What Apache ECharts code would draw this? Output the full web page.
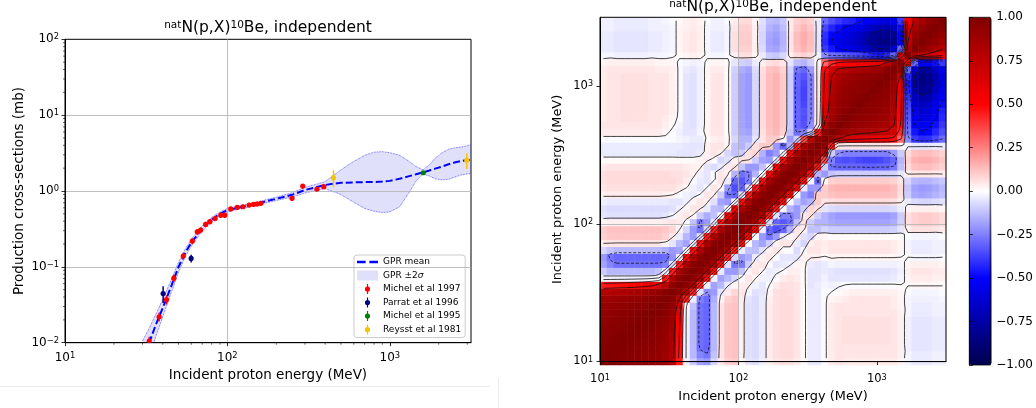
<!DOCTYPE html>
<html>
<head>
<meta charset="utf-8">
<script src="https://cdn.jsdelivr.net/npm/echarts@6/dist/echarts.min.js"></script>
<style>
html, body { margin: 0; padding: 0; background: #fff; }
#main { width: 1036px; height: 408px; }
</style>
</head>
<body>
<div id="main"></div>
<script>
// ---- left panel: GPR fit of the excitation function ----
const gprEnergy = [30, 33, 36, 40, 45, 50, 55, 60, 70, 80, 90, 100, 120, 150, 200, 250, 300, 350, 400, 450, 500, 600, 700, 800, 900, 1000, 1150, 1300, 1450, 1600, 1750, 1900, 2100, 2300, 2500, 2750, 3000, 3162];
const gprMean  = [0.0056, 0.010, 0.0166, 0.0287, 0.055, 0.0995, 0.153, 0.209, 0.321, 0.42, 0.50, 0.56, 0.61, 0.68, 0.79, 0.89, 1.03, 1.12, 1.20, 1.25, 1.28, 1.30, 1.31, 1.31, 1.33, 1.36, 1.45, 1.56, 1.66, 1.76, 1.86, 1.97, 2.10, 2.25, 2.37, 2.48, 2.55, 2.58];
const gprUpper = [0.0105, 0.0155, 0.023, 0.037, 0.067, 0.115, 0.172, 0.232, 0.35, 0.45, 0.53, 0.59, 0.64, 0.71, 0.83, 0.95, 1.12, 1.22, 1.33, 1.6, 1.9, 2.45, 2.95, 3.25, 3.3, 3.2, 2.95, 2.5, 2.1, 1.9, 2.2, 2.7, 3.2, 3.55, 3.7, 3.8, 3.95, 4.1];
const gprLower = [0.0035, 0.0062, 0.0115, 0.022, 0.045, 0.085, 0.135, 0.188, 0.295, 0.39, 0.47, 0.53, 0.58, 0.65, 0.75, 0.83, 0.94, 1.02, 1.07, 0.98, 0.9, 0.71, 0.59, 0.54, 0.52, 0.53, 0.62, 0.92, 1.35, 1.68, 1.58, 1.45, 1.4, 1.43, 1.52, 1.63, 1.68, 1.7];

// experimental points (energy MeV, cross-section mb, error mb)
const michel97E   = [33, 38, 42.2, 46.8, 53.5, 60.8, 65.2, 68.4, 73.4, 78, 84, 91, 96.4, 104.8, 115, 124.7, 136, 145, 152, 160.6, 250, 291, 356, 392];
const michel97Y   = [0.0105, 0.022, 0.037, 0.071, 0.139, 0.219, 0.29, 0.306, 0.363, 0.394, 0.434, 0.48, 0.48, 0.58, 0.61, 0.62, 0.654, 0.667, 0.674, 0.688, 0.80, 1.16, 1.06, 1.14];
const michel97Err = [0.0015, 0.003, 0.005, 0.008, 0.014, 0.02, 0.025, 0.025, 0.03, 0.03, 0.035, 0.04, 0.04, 0.04, 0.04, 0.04, 0.045, 0.045, 0.045, 0.045, 0.06, 0.08, 0.07, 0.08];
const parrat96E   = [40.2, 59.8];
const parrat96Y   = [0.0445, 0.129];
const parrat96Err = [0.011, 0.015];
const michel95E   = [1607];
const michel95Y   = [1.74];
const michel95Err = [0.08];
const reysst81E   = [450, 2980];
const reysst81Y   = [1.5, 2.55];
const reysst81Err = [0.38, 0.6];

// log axis ticks
const majorX = [10, 100, 1000];
const majorY = [0.01, 0.1, 1, 10, 100];
const minorX = [20, 30, 40, 50, 60, 70, 80, 90, 200, 300, 400, 500, 600, 700, 800, 900, 2000, 3000];
const minorY = [0.02, 0.03, 0.04, 0.05, 0.06, 0.07, 0.08, 0.09, 0.2, 0.3, 0.4, 0.5, 0.6, 0.7, 0.8, 0.9,
                2, 3, 4, 5, 6, 7, 8, 9, 20, 30, 40, 50, 60, 70, 80, 90];

// ---- right panel: correlation matrix, cells 0.05 decade wide from 10 MeV ----
const cellLog0 = 1.025;  // log10(E) of first cell centre
const cellStep = 0.05;
// lower triangle, row j = y cell, entries i = 0..j (matrix is symmetric)
const corrLower = [
  [1.00],
  [0.99, 1.00],
  [0.98, 0.99, 1.00],
  [0.97, 0.98, 0.99, 1.00],
  [0.96, 0.97, 0.98, 0.99, 1.00],
  [0.95, 0.96, 0.97, 0.98, 0.99, 1.00],
  [0.94, 0.95, 0.96, 0.97, 0.98, 0.99, 1.00],
  [0.93, 0.94, 0.95, 0.96, 0.97, 0.98, 0.99, 1.00],
  [0.91, 0.92, 0.93, 0.94, 0.95, 0.96, 0.97, 0.99, 1.00],
  [0.88, 0.89, 0.90, 0.91, 0.92, 0.93, 0.95, 0.96, 0.98, 1.00],
  [0.80, 0.81, 0.82, 0.83, 0.84, 0.86, 0.88, 0.90, 0.93, 0.97, 1.00],
  [0.45, 0.46, 0.47, 0.48, 0.50, 0.52, 0.55, 0.60, 0.68, 0.80, 0.95, 1.00],
  [-0.03, -0.03, -0.03, -0.03, -0.03, -0.03, -0.03, -0.02, 0.02, 0.45, 0.82, 0.95, 1.00],
  [-0.10, -0.14, -0.14, -0.14, -0.14, -0.14, -0.14, -0.14, -0.12, -0.04, 0.45, 0.85, 0.96, 1.00],
  [-0.18, -0.24, -0.28, -0.28, -0.28, -0.28, -0.28, -0.28, -0.28, -0.25, -0.06, 0.45, 0.85, 0.96, 1.00],
  [-0.20, -0.27, -0.30, -0.30, -0.30, -0.30, -0.30, -0.30, -0.30, -0.29, -0.22, -0.03, 0.48, 0.85, 0.96, 1.00],
  [-0.08, -0.12, -0.14, -0.14, -0.14, -0.14, -0.14, -0.14, -0.14, -0.16, -0.20, -0.18, -0.02, 0.48, 0.85, 0.96, 1.00],
  [0.04, 0.05, 0.05, 0.05, 0.05, 0.05, 0.05, 0.05, 0.05, 0.02, -0.05, -0.14, -0.18, -0.04, 0.48, 0.85, 0.96, 1.00],
  [0.09, 0.11, 0.11, 0.11, 0.11, 0.11, 0.11, 0.11, 0.11, 0.09, 0.04, -0.04, -0.14, -0.20, -0.06, 0.45, 0.85, 0.96, 1.00],
  [0.10, 0.12, 0.12, 0.12, 0.12, 0.12, 0.12, 0.12, 0.12, 0.11, 0.08, 0.02, -0.08, -0.20, -0.27, -0.08, 0.45, 0.85, 0.96, 1.00],
  [0.02, 0.03, 0.03, 0.03, 0.03, 0.03, 0.03, 0.03, 0.03, 0.04, 0.05, 0.04, -0.01, -0.12, -0.26, -0.20, -0.04, 0.48, 0.86, 0.96, 1.00],
  [-0.05, -0.06, -0.06, -0.06, -0.06, -0.06, -0.06, -0.06, -0.06, -0.05, -0.02, 0.03, 0.05, 0.02, -0.10, -0.16, -0.12, -0.01, 0.50, 0.86, 0.96, 1.00],
  [-0.06, -0.07, -0.07, -0.07, -0.07, -0.07, -0.07, -0.07, -0.07, -0.07, -0.06, -0.03, 0.02, 0.05, 0.04, -0.04, -0.13, -0.14, -0.01, 0.50, 0.86, 0.96, 1.00],
  [-0.03, -0.04, -0.04, -0.04, -0.04, -0.04, -0.04, -0.04, -0.04, -0.04, -0.05, -0.05, -0.03, 0.02, 0.05, 0.03, -0.06, -0.18, -0.20, -0.03, 0.48, 0.85, 0.96, 1.00],
  [0.03, 0.04, 0.04, 0.04, 0.04, 0.04, 0.04, 0.04, 0.04, 0.03, 0.02, -0.01, -0.03, -0.04, -0.01, 0.05, 0.03, -0.10, -0.27, -0.30, -0.06, 0.45, 0.85, 0.96, 1.00],
  [0.05, 0.06, 0.06, 0.06, 0.06, 0.06, 0.06, 0.06, 0.06, 0.06, 0.06, 0.04, 0.01, -0.03, -0.05, -0.01, 0.05, 0.02, -0.20, -0.35, -0.30, -0.06, 0.45, 0.85, 0.96, 1.00],
  [0.06, 0.07, 0.07, 0.07, 0.07, 0.07, 0.07, 0.07, 0.07, 0.07, 0.07, 0.06, 0.04, -0.01, -0.04, -0.05, -0.01, 0.05, -0.04, -0.30, -0.33, -0.25, -0.02, 0.48, 0.86, 0.96, 1.00],
  [0.06, 0.07, 0.07, 0.07, 0.07, 0.07, 0.07, 0.07, 0.07, 0.07, 0.06, 0.06, 0.05, 0.03, -0.03, -0.05, -0.01, 0.05, 0.02, -0.15, -0.28, -0.25, -0.15, -0.01, 0.50, 0.86, 0.96, 1.00],
  [0.04, 0.05, 0.05, 0.05, 0.05, 0.05, 0.05, 0.05, 0.05, 0.05, 0.05, 0.05, 0.04, 0.03, 0.02, -0.05, -0.07, -0.04, 0.04, 0.05, -0.12, -0.20, -0.20, -0.12, -0.01, 0.50, 0.86, 0.96, 1.00],
  [0.01, 0.01, 0.01, 0.01, 0.01, 0.01, 0.01, 0.01, 0.01, 0.01, 0.01, 0.01, 0.01, 0.01, 0.02, 0.03, -0.01, -0.08, -0.06, 0.03, 0.06, 0.05, -0.10, -0.18, -0.20, -0.04, 0.48, 0.86, 0.96, 1.00],
  [-0.04, -0.04, -0.04, -0.04, -0.04, -0.04, -0.04, -0.04, -0.04, -0.04, -0.04, -0.05, -0.05, -0.05, -0.04, 0.03, 0.05, 0.03, -0.08, -0.12, -0.10, 0.06, 0.08, -0.15, -0.25, -0.20, -0.02, 0.48, 0.86, 0.96, 1.00],
  [-0.04, -0.04, -0.04, -0.04, -0.04, -0.04, -0.04, -0.04, -0.04, -0.04, -0.04, -0.04, -0.05, -0.05, -0.05, 0.03, 0.05, 0.05, 0.02, -0.12, -0.15, -0.10, 0.06, 0.10, 0.10, -0.20, -0.30, -0.15, 0.45, 0.85, 0.96, 1.00],
  [-0.01, -0.01, -0.01, -0.01, -0.01, -0.01, -0.01, -0.01, -0.01, -0.01, -0.01, -0.02, -0.03, -0.04, -0.04, 0.01, 0.03, 0.04, 0.02, -0.08, -0.15, -0.15, -0.05, 0.05, 0.10, 0.10, 0.02, -0.20, -0.10, 0.35, 0.80, 0.95, 1.00],
  [0.04, 0.04, 0.04, 0.04, 0.04, 0.04, 0.04, 0.04, 0.04, 0.02, -0.01, -0.03, -0.05, -0.05, -0.02, 0.02, 0.05, 0.05, 0.01, -0.10, -0.17, -0.18, -0.07, 0.06, 0.12, 0.14, 0.09, -0.12, -0.28, -0.25, -0.10, 0.45, 0.93, 1.00],
  [0.05, 0.05, 0.05, 0.05, 0.05, 0.05, 0.05, 0.05, 0.05, 0.03, 0.01, -0.02, -0.05, -0.06, -0.03, 0.02, 0.05, 0.05, 0.01, -0.10, -0.18, -0.20, -0.08, 0.07, 0.13, 0.15, 0.10, -0.10, -0.30, -0.34, -0.22, 0.05, 0.80, 0.94, 1.00],
  [0.04, 0.05, 0.05, 0.06, 0.06, 0.06, 0.06, 0.05, 0.05, 0.04, 0.02, -0.01, -0.05, -0.06, -0.03, 0.02, 0.05, 0.05, 0.01, -0.10, -0.18, -0.20, -0.08, 0.07, 0.13, 0.15, 0.10, -0.10, -0.30, -0.35, -0.25, 0.05, 0.70, 0.88, 0.96, 1.00],
  [0.04, 0.05, 0.05, 0.06, 0.06, 0.06, 0.06, 0.05, 0.05, 0.05, 0.03, -0.01, -0.05, -0.06, -0.03, 0.02, 0.05, 0.05, 0.01, -0.10, -0.18, -0.20, -0.08, 0.07, 0.13, 0.15, 0.10, -0.10, -0.30, -0.34, -0.25, 0.05, 0.65, 0.85, 0.93, 0.96, 1.00],
  [0.04, 0.05, 0.05, 0.06, 0.06, 0.06, 0.06, 0.05, 0.05, 0.05, 0.03, -0.01, -0.05, -0.06, -0.03, 0.02, 0.05, 0.05, 0.01, -0.10, -0.18, -0.20, -0.08, 0.07, 0.13, 0.15, 0.10, -0.10, -0.30, -0.36, -0.25, 0.05, 0.62, 0.84, 0.91, 0.94, 0.97, 1.00],
  [0.04, 0.05, 0.05, 0.06, 0.06, 0.06, 0.06, 0.05, 0.05, 0.05, 0.03, -0.01, -0.05, -0.06, -0.03, 0.02, 0.05, 0.05, 0.01, -0.10, -0.18, -0.20, -0.08, 0.07, 0.13, 0.15, 0.10, -0.10, -0.31, -0.37, -0.25, 0.05, 0.60, 0.82, 0.90, 0.93, 0.95, 0.97, 1.00],
  [0.04, 0.05, 0.05, 0.06, 0.06, 0.06, 0.06, 0.05, 0.05, 0.05, 0.03, -0.01, -0.05, -0.06, -0.03, 0.02, 0.05, 0.05, 0.01, -0.10, -0.18, -0.20, -0.08, 0.07, 0.13, 0.15, 0.10, -0.10, -0.31, -0.37, -0.25, 0.05, 0.58, 0.80, 0.88, 0.92, 0.94, 0.95, 0.97, 1.00],
  [0.04, 0.05, 0.05, 0.06, 0.06, 0.06, 0.06, 0.05, 0.05, 0.05, 0.03, -0.01, -0.05, -0.06, -0.03, 0.02, 0.05, 0.05, 0.01, -0.10, -0.18, -0.20, -0.08, 0.07, 0.13, 0.15, 0.10, -0.10, -0.30, -0.36, -0.25, 0.05, 0.56, 0.78, 0.86, 0.90, 0.92, 0.94, 0.95, 0.97, 1.00],
  [0.04, 0.05, 0.05, 0.06, 0.06, 0.06, 0.06, 0.05, 0.05, 0.05, 0.03, -0.01, -0.05, -0.06, -0.03, 0.02, 0.05, 0.05, 0.01, -0.10, -0.18, -0.20, -0.08, 0.07, 0.13, 0.15, 0.10, -0.10, -0.30, -0.34, -0.25, 0.05, 0.54, 0.75, 0.84, 0.88, 0.90, 0.92, 0.94, 0.95, 0.97, 1.00],
  [0.04, 0.05, 0.05, 0.05, 0.05, 0.05, 0.05, 0.05, 0.04, 0.04, 0.03, -0.01, -0.04, -0.05, -0.03, 0.02, 0.04, 0.04, 0.01, -0.09, -0.16, -0.18, -0.07, 0.06, 0.12, 0.13, 0.09, -0.09, -0.27, -0.30, -0.20, 0.04, 0.48, 0.68, 0.76, 0.80, 0.82, 0.84, 0.86, 0.88, 0.90, 0.96, 1.00],
  [0.02, 0.03, 0.03, 0.03, 0.03, 0.03, 0.03, 0.03, 0.02, 0.02, 0.02, -0.01, -0.02, -0.03, -0.02, 0.01, 0.02, 0.02, 0.01, -0.05, -0.09, -0.10, -0.04, 0.03, 0.06, 0.07, 0.05, -0.05, -0.13, -0.15, -0.10, 0.02, 0.30, 0.42, 0.48, 0.50, 0.52, 0.54, 0.56, 0.58, 0.62, 0.75, 0.93, 1.00],
  [-0.02, -0.02, -0.03, -0.03, -0.03, -0.03, -0.03, -0.02, -0.02, -0.02, -0.01, 0.01, 0.02, 0.03, 0.02, -0.01, -0.02, -0.02, -0.01, 0.03, 0.06, 0.06, 0.02, -0.04, -0.10, -0.11, -0.08, 0.03, 0.07, 0.09, 0.07, -0.03, -0.23, -0.28, -0.30, -0.33, -0.35, -0.37, -0.40, -0.44, -0.46, -0.42, -0.30, 0.60, 1.00],
  [-0.04, -0.04, -0.05, -0.05, -0.05, -0.05, -0.05, -0.04, -0.04, -0.03, -0.02, 0.02, 0.04, 0.05, 0.03, -0.02, -0.04, -0.04, -0.02, 0.06, 0.09, 0.09, 0.03, -0.07, -0.17, -0.18, -0.14, 0.05, 0.12, 0.15, 0.12, -0.05, -0.39, -0.46, -0.51, -0.55, -0.58, -0.63, -0.68, -0.74, -0.77, -0.76, -0.65, -0.30, 0.85, 1.00],
  [-0.04, -0.04, -0.05, -0.05, -0.05, -0.05, -0.05, -0.04, -0.04, -0.03, -0.02, 0.02, 0.04, 0.05, 0.03, -0.02, -0.04, -0.04, -0.02, 0.06, 0.10, 0.10, 0.03, -0.08, -0.18, -0.20, -0.15, 0.05, 0.13, 0.16, 0.13, -0.05, -0.42, -0.50, -0.55, -0.60, -0.63, -0.68, -0.74, -0.80, -0.84, -0.85, -0.80, -0.50, 0.75, 0.95, 1.00],
  [-0.04, -0.04, -0.05, -0.05, -0.05, -0.05, -0.05, -0.04, -0.04, -0.03, -0.02, 0.02, 0.04, 0.05, 0.03, -0.02, -0.04, -0.04, -0.02, 0.06, 0.10, 0.10, 0.03, -0.08, -0.17, -0.19, -0.15, 0.05, 0.13, 0.16, 0.13, -0.05, -0.41, -0.49, -0.53, -0.58, -0.61, -0.66, -0.72, -0.78, -0.81, -0.82, -0.77, -0.52, 0.70, 0.90, 0.96, 1.00],
  [-0.03, -0.03, -0.04, -0.04, -0.04, -0.04, -0.04, -0.03, -0.03, -0.03, -0.02, 0.02, 0.03, 0.04, 0.03, -0.02, -0.03, -0.03, -0.02, 0.05, 0.09, 0.09, 0.03, -0.07, -0.15, -0.17, -0.13, 0.04, 0.11, 0.14, 0.11, -0.04, -0.36, -0.43, -0.47, -0.51, -0.54, -0.58, -0.63, -0.68, -0.71, -0.72, -0.68, -0.47, 0.65, 0.85, 0.92, 0.97, 1.00],
  [-0.03, -0.03, -0.04, -0.04, -0.04, -0.04, -0.04, -0.03, -0.03, -0.02, -0.01, 0.01, 0.03, 0.04, 0.02, -0.01, -0.03, -0.03, -0.01, 0.04, 0.07, 0.07, 0.02, -0.06, -0.13, -0.14, -0.11, 0.04, 0.09, 0.11, 0.09, -0.04, -0.29, -0.35, -0.39, -0.42, -0.44, -0.48, -0.52, -0.56, -0.59, -0.60, -0.56, -0.39, 0.55, 0.78, 0.86, 0.92, 0.97, 1.00]
];
const contourLevels = [-0.75, -0.5, -0.25, 0, 0.25, 0.5, 0.75];
const colorbarTicks = [-1, -0.75, -0.5, -0.25, 0, 0.25, 0.5, 0.75, 1];

// full symmetric matrix
const nCell = corrLower.length;
const corr = [];
for (let j = 0; j < nCell; j++) {
  corr.push([]);
  for (let i = 0; i < nCell; i++) corr[j].push(i <= j ? corrLower[j][i] : corrLower[i][j]);
}
const heatData = [];
for (let j = 0; j < nCell; j++) for (let i = 0; i < nCell; i++) heatData.push([i, j, corr[j][i]]);
const cellNames = corr.map((r, k) => String(k));

// marching squares on the cell centres, chained into polylines
function contourLines(Z, level) {
  const n = Z.length, pts = {}, segs = [];
  const up = v => v > level;
  function ep(key, xa, ya, va, xb, yb, vb) {
    if (!pts[key]) {
      const t = (level - va) / (vb - va);
      pts[key] = [xa + t * (xb - xa), ya + t * (yb - ya)];
    }
    return key;
  }
  for (let j = 0; j < n - 1; j++) {
    for (let i = 0; i < n - 1; i++) {
      const v0 = Z[j][i], v1 = Z[j][i + 1], v2 = Z[j + 1][i + 1], v3 = Z[j + 1][i];
      const k = {};
      if (up(v0) !== up(v1)) k[0] = ep('h' + i + '_' + j, i, j, v0, i + 1, j, v1);
      if (up(v1) !== up(v2)) k[1] = ep('v' + (i + 1) + '_' + j, i + 1, j, v1, i + 1, j + 1, v2);
      if (up(v3) !== up(v2)) k[2] = ep('h' + i + '_' + (j + 1), i, j + 1, v3, i + 1, j + 1, v2);
      if (up(v0) !== up(v3)) k[3] = ep('v' + i + '_' + j, i, j, v0, i, j + 1, v3);
      const ks = Object.keys(k);
      if (ks.length === 2) segs.push([k[ks[0]], k[ks[1]]]);
      else if (ks.length === 4) {
        const c = (v0 + v1 + v2 + v3) / 4;
        if (up(c) === up(v0)) { segs.push([k[0], k[1]]); segs.push([k[2], k[3]]); }
        else { segs.push([k[3], k[0]]); segs.push([k[1], k[2]]); }
      }
    }
  }
  const adj = {};
  segs.forEach((s, m) => { (adj[s[0]] = adj[s[0]] || []).push(m); (adj[s[1]] = adj[s[1]] || []).push(m); });
  const used = segs.map(() => false);
  const lines = [];
  for (let m = 0; m < segs.length; m++) {
    if (used[m]) continue;
    used[m] = true;
    const chain = [segs[m][0], segs[m][1]];
    for (let pass = 0; pass < 2; pass++) {
      for (;;) {
        const end = chain[chain.length - 1];
        const nx = (adj[end] || []).find(q => !used[q]);
        if (nx === undefined) break;
        used[nx] = true;
        chain.push(segs[nx][0] === end ? segs[nx][1] : segs[nx][0]);
      }
      chain.reverse();
    }
    lines.push(chain.map(key => pts[key]));
  }
  return lines;
}
const toEnergy = x => Math.pow(10, cellLog0 + cellStep * x);
const solidLines = [], dashedLines = [];
contourLevels.forEach(lv => {
  contourLines(corr, lv).forEach(pl => {
    const coords = pl.map(p => [toEnergy(p[0]), toEnergy(p[1])]);
    (lv < 0 ? dashedLines : solidLines).push({ coords: coords });
  });
});

// ---- helpers ----
const FONT = 'DejaVu Sans';
function powLabel(v) {
  const lg = Math.log10(v), e = Math.round(lg);
  if (Math.abs(lg - e) > 1e-6) return '';
  return '{b|10}{s|' + (e < 0 ? '\u2212' + (-e) : e) + '}';
}
function supRich(size) {
  return {
    b: { fontSize: size, lineHeight: size, padding: [4, 0, 0, 0], verticalAlign: 'bottom', color: '#000', fontFamily: FONT },
    s: { fontSize: size * 0.7, lineHeight: size * 0.75, verticalAlign: 'top', color: '#000', fontFamily: FONT }
  };
}
function logAxis(grid, min, max, ticks, pos, name, nameGap, labelSize, nameSize, margin) {
  return {
    type: 'log', logBase: 10, gridIndex: grid, min: min, max: max, position: pos, z: 5,
    name: name, nameLocation: 'middle', nameGap: nameGap,
    nameTextStyle: { fontSize: nameSize, color: '#000', fontFamily: FONT },
    axisLine: { show: true, lineStyle: { color: '#000', width: 1 } },
    axisTick: { show: true, length: 3.5, inside: false, customValues: ticks, lineStyle: { color: '#000', width: 0.8 } },
    axisLabel: { customValues: ticks, formatter: powLabel, margin: margin, rich: supRich(labelSize), showMinLabel: true, showMaxLabel: true },
    splitLine: { show: true, showMinLine: false, showMaxLine: false, lineStyle: { color: '#b0b0b0', width: 0.8 } },
    minorTick: { show: false }
  };
}
function errorSeries(name, color, xs, ys, errs) {
  return {
    name: name, type: 'custom', xAxisIndex: 0, yAxisIndex: 0, clip: true, z: 6,
    itemStyle: { color: color },
    data: xs.map((x, k) => [x, ys[k], ys[k] - errs[k], ys[k] + errs[k]]),
    encode: { x: 0, y: 1 },
    renderItem: (params, api) => {
      const p = api.coord([api.value(0), api.value(1)]);
      const lo = api.coord([api.value(0), api.value(2)]);
      const hi = api.coord([api.value(0), api.value(3)]);
      return {
        type: 'group', children: [
          { type: 'line', shape: { x1: p[0], y1: lo[1], x2: p[0], y2: hi[1] }, style: { stroke: color, lineWidth: 1.5 } },
          { type: 'circle', shape: { cx: p[0], cy: p[1], r: 2.6 }, style: { fill: color } }
        ]
      };
    }
  };
}
const markerIcon = 'path://M4.4,0H5.6V10H4.4ZM2.4,5A2.6,2.6,0,0,1,7.6,5A2.6,2.6,0,0,1,2.4,5Z';
const bandColor = 'rgba(0,0,220,0.12)';
const titleRich = {
  b: { fontSize: 15.5, lineHeight: 16, padding: [5, 0, 0, 0], verticalAlign: 'bottom', color: '#000', fontFamily: FONT, fontWeight: 'normal' },
  s: { fontSize: 10.5, lineHeight: 11, verticalAlign: 'top', color: '#000', fontFamily: FONT, fontWeight: 'normal' }
};

const chart = echarts.init(document.getElementById('main'), null, { renderer: 'canvas', width: 1036, height: 408 });

chart.setOption({
  animation: false,
  textStyle: { fontFamily: FONT },
  title: [
    {
      text: '{s|nat}{b|N(p,X)}{s|10}{b|Be, independent}',
      left: 268, top: 20, textAlign: 'center', padding: 0,
      textStyle: { fontWeight: 'normal', rich: titleRich }
    },
    {
      text: '{s|nat}{b|N(p,X)}{s|10}{b|Be, independent}',
      left: 773, top: -1, textAlign: 'center', padding: 0,
      textStyle: { fontWeight: 'normal', rich: titleRich }
    }
  ],
  legend: {
    left: 354, top: 255, orient: 'vertical', padding: [2, 4, 3, 3],
    itemWidth: 21, itemHeight: 10, itemGap: 3.5, selectedMode: false,
    backgroundColor: 'rgba(255,255,255,0.8)', borderColor: '#cccccc', borderWidth: 1, borderRadius: 3,
    textStyle: { fontSize: 9, color: '#000', lineHeight: 10, fontFamily: FONT,
      rich: { i: { fontStyle: 'italic', fontSize: 9, color: '#000', fontFamily: FONT } } },
    formatter: n => n === 'GPR ±2σ' ? 'GPR ±2{i|σ}' : n,
    data: [
      { name: 'GPR mean', icon: 'path://M0,0H7V2H0ZM10,0H17V2H10Z', itemStyle: { borderWidth: 0 } },
      { name: 'GPR ±2σ', icon: 'rect', itemStyle: { borderWidth: 0 } },
      { name: 'Michel et al 1997', icon: markerIcon, itemStyle: { borderWidth: 0 } },
      { name: 'Parrat et al 1996', icon: markerIcon, itemStyle: { borderWidth: 0 } },
      { name: 'Michel et al 1995', icon: markerIcon, itemStyle: { borderWidth: 0 } },
      { name: 'Reysst et al 1981', icon: markerIcon, itemStyle: { borderWidth: 0 } }
    ]
  },
  grid: [
    { left: 65, top: 39.3, width: 406, height: 303.4, show: true, borderColor: '#000', borderWidth: 1, backgroundColor: 'transparent', z: 1 },
    { left: 600, top: 17.3, width: 346, height: 347.7 },
    { left: 600, top: 17.3, width: 346, height: 347.7, show: true, borderColor: '#000', borderWidth: 1, backgroundColor: 'transparent', z: 6 },
    { left: 969.3, top: 17.3, width: 22.4, height: 347.7, show: true, borderColor: '#000', borderWidth: 0.8, backgroundColor: 'transparent', z: 6 }
  ],
  xAxis: [
    logAxis(0, 10, 3162.3, majorX, 'bottom', 'Incident proton energy (MeV)', 24, 12, 13.5, 9),
    { type: 'category', gridIndex: 1, data: cellNames, show: false },
    logAxis(2, 10, 3162.3, majorX, 'bottom', 'Incident proton energy (MeV)', 28, 11.5, 12.9, 12),
    { type: 'value', gridIndex: 3, min: 0, max: 1, show: false }
  ],
  yAxis: [
    logAxis(0, 0.01, 100, majorY, 'left', 'Production cross-sections (mb)', 39, 12, 13.5, 6),
    { type: 'category', gridIndex: 1, data: cellNames, show: false },
    logAxis(2, 10, 3162.3, majorX, 'left', 'Incident proton energy (MeV)', 36, 11.5, 12.9, 7),
    {
      type: 'value', gridIndex: 3, min: -1, max: 1, interval: 0.25, position: 'right', z: 7,
      axisLine: { show: true, lineStyle: { color: '#000', width: 0.8 } },
      axisTick: { show: true, length: 3.5, customValues: colorbarTicks, lineStyle: { color: '#000', width: 0.8 } },
      axisLabel: { customValues: colorbarTicks, margin: 6, fontSize: 12, color: '#000', fontFamily: FONT,
        formatter: v => (v < 0 ? '\u2212' : '') + Math.abs(v).toFixed(2) },
      splitLine: { show: false }
    }
  ],
  visualMap: {
    type: 'continuous', min: -1, max: 1, seriesIndex: 0, dimension: 2,
    calculable: false, hoverLink: false, orient: 'vertical', padding: 0,
    left: 969.3, top: 17.3, itemWidth: 22.4, itemHeight: 347.7,
    inRange: { color: ['#00004d', '#0000ff', '#ffffff', '#ff0000', '#800000'] }
  },
  graphic: [
    { type: 'line', shape: { x1: 0, y1: 386.5, x2: 490, y2: 386.5 }, style: { stroke: '#ececec', lineWidth: 1 }, silent: true },
    { type: 'line', shape: { x1: 498.5, y1: 378, x2: 498.5, y2: 408 }, style: { stroke: '#ececec', lineWidth: 1 }, silent: true }
  ],
  series: [
    {
      type: 'heatmap', xAxisIndex: 1, yAxisIndex: 1, data: heatData, z: 2,
      itemStyle: { borderWidth: 0 }, emphasis: { disabled: true }
    },
    {
      type: 'lines', coordinateSystem: 'cartesian2d', xAxisIndex: 2, yAxisIndex: 2, polyline: true, silent: true, z: 4,
      lineStyle: { color: '#111', width: 0.8, opacity: 1 }, data: solidLines
    },
    {
      type: 'lines', coordinateSystem: 'cartesian2d', xAxisIndex: 2, yAxisIndex: 2, polyline: true, silent: true, z: 4,
      lineStyle: { color: '#111', width: 0.8, opacity: 1, type: [3, 1.8] }, data: dashedLines
    },
    {
      name: 'GPR ±2σ', type: 'custom', xAxisIndex: 0, yAxisIndex: 0, clip: true, z: 2,
      itemStyle: { color: bandColor },
      data: [[gprEnergy[0], gprMean[0]]],
      renderItem: (params, api) => {
        const pts = [];
        for (let k = 0; k < gprEnergy.length; k++) pts.push(api.coord([gprEnergy[k], gprUpper[k]]));
        for (let k = gprEnergy.length - 1; k >= 0; k--) pts.push(api.coord([gprEnergy[k], gprLower[k]]));
        return { type: 'polygon', shape: { points: pts }, style: { fill: bandColor } };
      }
    },
    {
      type: 'line', xAxisIndex: 0, yAxisIndex: 0, showSymbol: false, silent: true, z: 3,
      lineStyle: { color: '#4040ff', width: 0.8, type: 'dotted' },
      data: gprEnergy.map((e, k) => [e, gprUpper[k]])
    },
    {
      type: 'line', xAxisIndex: 0, yAxisIndex: 0, showSymbol: false, silent: true, z: 3,
      lineStyle: { color: '#4040ff', width: 0.8, type: 'dotted' },
      data: gprEnergy.map((e, k) => [e, gprLower[k]])
    },
    {
      name: 'GPR mean', type: 'line', xAxisIndex: 0, yAxisIndex: 0, showSymbol: false, z: 5,
      itemStyle: { color: '#0000ff' },
      lineStyle: { color: '#0000ff', width: 2, type: [7, 3] },
      data: gprEnergy.map((e, k) => [e, gprMean[k]])
    },
    errorSeries('Michel et al 1997', '#ff0000', michel97E, michel97Y, michel97Err),
    errorSeries('Parrat et al 1996', '#000080', parrat96E, parrat96Y, parrat96Err),
    errorSeries('Michel et al 1995', '#008000', michel95E, michel95Y, michel95Err),
    errorSeries('Reysst et al 1981', '#f5c400', reysst81E, reysst81Y, reysst81Err),
    {
      type: 'custom', xAxisIndex: 0, yAxisIndex: 0, silent: true, z: 6,
      data: minorX.map(v => [v, 0.01]),
      renderItem: (params, api) => {
        const p = api.coord([api.value(0), api.value(1)]);
        return { type: 'line', shape: { x1: p[0], y1: p[1], x2: p[0], y2: p[1] + 2 }, style: { stroke: '#000', lineWidth: 0.6 } };
      }
    },
    {
      type: 'custom', xAxisIndex: 0, yAxisIndex: 0, silent: true, z: 6,
      data: minorY.map(v => [10, v]),
      renderItem: (params, api) => {
        const p = api.coord([api.value(0), api.value(1)]);
        return { type: 'line', shape: { x1: p[0] - 2, y1: p[1], x2: p[0], y2: p[1] }, style: { stroke: '#000', lineWidth: 0.6 } };
      }
    }
  ]
});
</script>
</body>
</html>
